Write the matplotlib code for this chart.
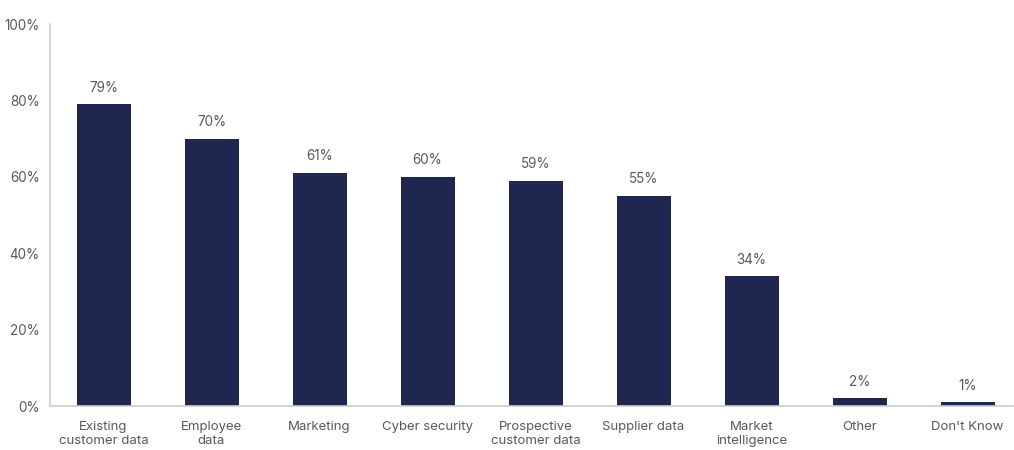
import matplotlib.pyplot as plt
import numpy as np

categories = ["Existing\ncustomer data", "Employee\ndata", "Marketing", "Cyber security",
              "Prospective\ncustomer data", "Supplier data", "Market\nintelligence",
              "Other", "Don't Know"]
values = [79, 70, 61, 60, 59, 55, 34, 2, 1]
yticks = [0, 20, 40, 60, 80, 100]

navy = "#1f2751"
grey_text = "#595959"

plt.rcParams['font.family'] = ['Inter', 'DejaVu Sans']

fig = plt.figure(figsize=(10.14, 4.5), dpi=100)
# axes runs a little past the right edge of the figure
ax = fig.add_axes([49.5 / 1014, 44 / 450, 972 / 1014, 382 / 450])

x = np.arange(len(categories))
bars = ax.bar(x, values, width=0.5, color=navy)
for xi, v in zip(x, values):
    ax.text(xi, v + 2.5, f"{v}%", ha='center', va='bottom', fontsize=9.7, color=grey_text)

ax.set_xlim(-0.5, len(categories) - 0.5)
ax.set_ylim(0, 100)
ax.set_yticks(yticks)
ax.set_yticklabels([f"{t}%" for t in yticks])
ax.set_xticks(x)
ax.set_xticklabels(categories, linespacing=1.2, fontsize=9.5)

for side in ['top', 'right']:
    ax.spines[side].set_visible(False)
for side in ['left', 'bottom']:
    ax.spines[side].set_color('#cccccc')
    ax.spines[side].set_linewidth(1.2)

ax.tick_params(axis='y', length=0, labelsize=9.7, colors=grey_text, pad=7)
ax.tick_params(axis='x', length=0, colors=grey_text, pad=11)

fig.savefig("out.png", dpi=100)
